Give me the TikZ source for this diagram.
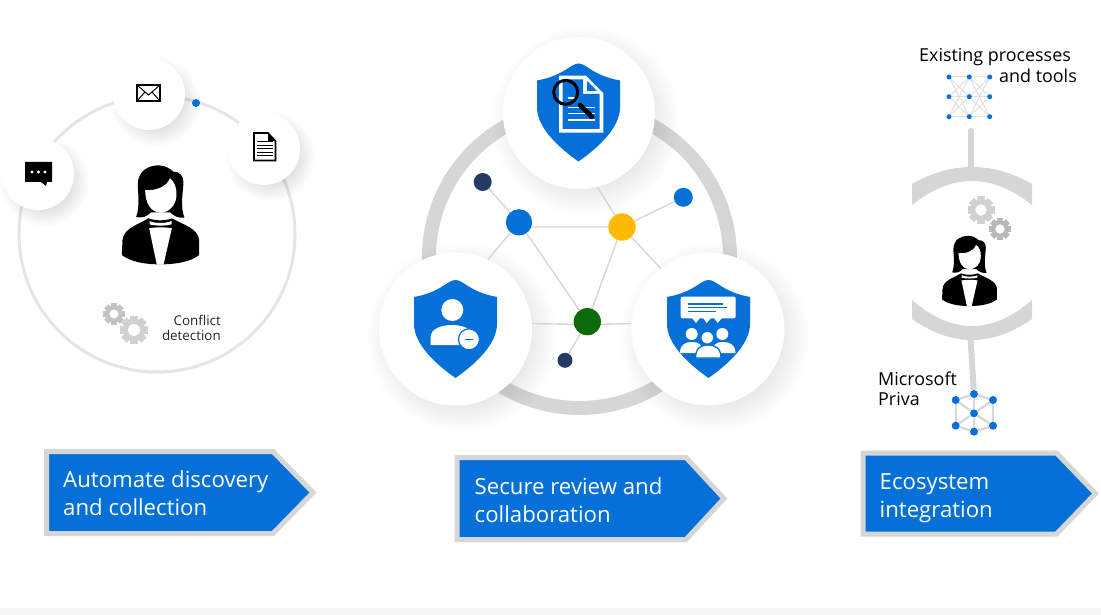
\documentclass[tikz,border=0pt]{standalone}
\usepackage{fontspec}
\setmainfont{Open Sans}
\usetikzlibrary{shadows, backgrounds, fadings}
\definecolor{msblue}{HTML}{0470D8}
\definecolor{ringgrey}{HTML}{D6D6D6}
\definecolor{navy}{HTML}{243A66}
\definecolor{amber}{HTML}{FFB900}
\definecolor{darkgreen}{HTML}{0B6A0B}
\tikzfading[name=softdisc, inner color=transparent!0, outer color=transparent!100]

\begin{document}
\begin{tikzpicture}[
  x=1pt, y=-1pt,
  bigdisc/.style={circle, fill=white, inner sep=0pt, minimum size=#1,
    general shadow={shadow scale=1.25, shadow xshift=5pt, shadow yshift=-6pt,
      fill=black, path fading=softdisc, opacity=.28}},
  dot/.style={circle, fill=#1, inner sep=0pt},
  netline/.style={draw=ringgrey, line width=1.4pt},
  banner/.style={draw=ringgrey, fill=msblue, line width=5pt, line join=miter},
  bannertext/.style={text=white, align=left, anchor=west, inner sep=0pt,
    font=\fontsize{22.2}{28}\selectfont},
  label/.style={text=black, inner sep=0pt, font=\fontsize{17.9}{21}\selectfont},
  person/.pic={
    \fill[black] (-73,6) .. controls (-61,-27) and (-68,-67) .. (-68,-92)
      .. controls (-68,-132) and (-36,-149) .. (-6,-149)
      .. controls (14,-149) and (29,-139) .. (39,-130)
      .. controls (54,-132) and (71,-117) .. (69,-97)
      .. controls (67,-67) and (59,-22) .. (72,8)
      .. controls (54,10) and (39,3) .. (29,-8) -- (-29,-8)
      .. controls (-40,5) and (-55,10) .. (-73,6) -- cycle;
    \fill[white] (-46,-75) .. controls (-15,-72) and (20,-85) .. (28,-110)
      .. controls (42,-100) and (48,-85) .. (48,-60)
      .. controls (48,-30) and (25,-7) .. (1,-7)
      .. controls (-28,-7) and (-46,-35) .. (-46,-75) -- cycle;
    \fill[black] (-116,120) -- (-114,75) .. controls (-110,40) and (-70,30) .. (-36,10)
      .. controls (-15,18) and (15,18) .. (34,10)
      .. controls (70,30) and (112,40) .. (116,75) -- (116,120)
      .. controls (90,140) and (50,147) .. (9,148) -- (-11,148)
      .. controls (-50,147) and (-90,140) .. (-116,120) -- cycle;
    \fill[white] (-33,18) .. controls (-15,26) and (15,26) .. (33,18) -- (33,28)
      .. controls (15,33) and (-15,33) .. (-33,28) -- cycle;
    \fill[white] (-34,40) .. controls (-15,36) and (15,36) .. (34,40) -- (9,149) -- (-11,149) -- cycle;
  },
  shield/.pic={
    \fill[msblue] (0,-49) .. controls (-8,-49) and (-14,-37) .. (-41.5,-32) -- (-41.5,-5)
      .. controls (-41.5,15) and (-20,35) .. (0,49)
      .. controls (20,35) and (41.5,15) .. (41.5,-5) -- (41.5,-32)
      .. controls (14,-37) and (8,-49) .. (0,-49) -- cycle;
  },
  gear/.pic={
    \path[pic actions] (0,0) circle (7.8);
    \foreach \a in {0,45,...,315}
      \path[pic actions, rotate=\a] (-2.7,-10) rectangle (2.7,0);
    \fill[white] (0,0) circle (4.2);
  }
]
\useasboundingbox (0,0) rectangle (1101,615);
\fill[black!3] (0,608) rectangle (1101,615);

\node[circle, draw=black!10, line width=3pt, inner sep=0pt, minimum size=276pt] (ringa) at (157,234) {};
\node[bigdisc=72pt] (chat) at (38,174) {};
\node[bigdisc=72pt] (mail) at (149,94) {};
\node[bigdisc=72pt] (page) at (264,149) {};
\node[dot=msblue, minimum size=8pt] (ringdot) at (196,103) {};

\fill[black] (25,162) rectangle (52,182) (41,182) -- (47,182) -- (46,186) -- cycle;
\foreach \x in {32,38.5,45} \fill[white] (\x,172) circle (1.7);
\draw[black, line width=1.8pt, fill=white] (137,85) rectangle (160,101);
\draw[black, line width=1pt] (137,85) -- (148.5,95) -- (160,85) (137,101) -- (145,92) (160,101) -- (152,92);
\draw[black, line width=1.6pt, line join=miter] (254,133) -- (268,133) -- (275.5,141) -- (275.5,160.5) -- (254,160.5) -- cycle;
\fill[black] (268,133) -- (268,141) -- (275.5,141) -- cycle;
\foreach \y in {142,145.5,149,152.5,156} \draw[black, line width=1pt] (257,\y) -- (272.5,\y);
\pic[scale=.3333] at (160.5,215) {person};
\pic[scale=1.08, fill=black!24] at (114,314) {gear};
\pic[scale=1.42, fill=black!18] at (134,330) {gear};
\node[label, text=black!85, align=right, anchor=east, font=\fontsize{13.4}{15}\selectfont] (conflict) at (221,327.5) {Conflict\\detection};

\node[circle, draw=ringgrey, line width=14pt, inner sep=0pt, minimum size=301pt] (ringb) at (579.5,257.5) {};
\node[bigdisc=152pt] (review) at (579,113) {};
\node[bigdisc=153pt] (remove) at (455.5,329) {};
\node[bigdisc=153pt] (team) at (708,329) {};
\node[dot=navy, minimum size=18pt] (n1) at (482.7,182) {};
\node[dot=msblue, minimum size=26pt] (n2) at (519,222.3) {};
\node[dot=amber, minimum size=27pt] (n3) at (622,227) {};
\node[dot=msblue, minimum size=19pt] (n4) at (683.3,197.3) {};
\node[dot=darkgreen, minimum size=27pt] (n5) at (587.3,321.7) {};
\node[dot=navy, minimum size=15pt] (n6) at (565,360.3) {};
\begin{scope}[on background layer]
  \draw[netline] (n1) -- (n2);
  \draw[netline] (n2.-21) -- (n3.180);
  \draw[netline] (n2) -- (n5);
  \draw[netline] (n3) -- (n5);
  \draw[netline] (n3) -- (n4);
  \draw[netline] (n5) -- (n6);
\end{scope}
\draw[netline] (n2) -- (remove.65);
\draw[netline] (n3) -- (review.-76);
\draw[netline] (n3) -- (team.128);
\draw[netline] (n5.191) -- (remove.4);
\draw[netline] (n5.-11) -- (team.176);
\node[dot=msblue, minimum size=26pt] at (n2) {};
\node[dot=amber, minimum size=27pt] at (n3) {};
\node[dot=darkgreen, minimum size=27pt] at (n5) {};

\pic at (578.5,112.5) {shield};
\fill[white] (559,75.7) -- (586,75.7) -- (603.3,93.3) -- (603.3,132.7) -- (559,132.7) -- cycle;
\fill[msblue] (562.5,79.5) -- (583,79.5) -- (583,94) -- (599.5,94) -- (599.5,129) -- (562.5,129) -- cycle;
\fill[msblue] (587,81) -- (587,91) -- (597,91) -- cycle;
\foreach \y/\w in {98/577, 107.5/595, 113.5/595, 120/595} \draw[white, line width=1.8pt] (568,\y) -- (\w,\y);
\draw[black, line width=3pt] (565.7,92.3) circle (12);
\draw[black, line width=4.7pt, line cap=round] (580,105) -- (591.7,116.7);

\pic at (455.5,329) {shield};
\fill[white] (452.3,310) circle (11);
\fill[white] (430.7,345) -- (430.7,337) .. controls (430.7,329) and (441,325) .. (452,325) .. controls (463,325) and (473,329) .. (473,337) -- (473,345) -- cycle;
\draw[msblue, line width=1.2pt, fill=white] (469,339.3) circle (10.5);
\draw[msblue, line width=1.5pt] (465,339.3) -- (473.3,339.3);

\pic at (708.5,329) {shield};
\fill[white, rounded corners=2pt] (680.7,296.7) rectangle (735.7,318.3);
\fill[white] (692,318) -- (700,318) -- (696,323) -- cycle (703,318) -- (711,318) -- (706.7,323) -- cycle (714,318) -- (722,318) -- (717.7,323) -- cycle;
\foreach \y/\w in {304/723, 307.7/727, 311.7/715.7} \draw[msblue, line width=1.1pt] (687.7,\y) -- (\w,\y);
\foreach \x in {691.7,722.3} \fill[white] (\x,334) circle (6);
\fill[white] (680,353) .. controls (680,344) and (686,342) .. (692,342) .. controls (698,342) and (703,344) .. (703,353) -- cycle;
\fill[white] (712,353) .. controls (712,344) and (717,342) .. (723,342) .. controls (729,342) and (735.5,344) .. (735.5,353) -- cycle;
\draw[msblue, line width=1.3pt, fill=white] (707.3,337.7) circle (6.5);
\draw[msblue, line width=1.3pt, fill=white] (695.5,358) .. controls (695.5,348) and (701,345) .. (708,345) .. controls (715,345) and (721,348) .. (721,358) -- cycle;

\foreach \i/\x in {1/949, 2/969.3, 3/989.7}
  \foreach \j/\y in {1/77, 2/96.7, 3/116.7}
    \node[dot=msblue, minimum size=5pt] (e\i\j) at (\x,\y) {};
\begin{scope}[on background layer]
  \foreach \j in {1,2,3}
    \foreach \k in {1,2,3} {
      \draw[draw=black!12, line width=1pt] (e1\j) -- (e2\k);
      \draw[draw=black!12, line width=1pt] (e2\j) -- (e3\k);
    }
\end{scope}
\node[label, anchor=west] (existing) at (919,57.5) {Existing processes};
\node[label, anchor=east] (tools) at (1077,76) {and tools};
\node[label, anchor=west] (microsoft) at (878,379) {Microsoft};
\node[label, anchor=west] (priva) at (878,399) {Priva};

\coordinate (bartop) at (971,131);
\coordinate (archigh) at (971,170);
\coordinate (arclow) at (970.5,338);
\fill[ringgrey] (912,184) .. controls (952,161.3) and (992,161.3) .. (1032,184) -- (1032,205)
  .. controls (992,173) and (952,173) .. (912,205) -- cycle;
\fill[ringgrey] (912,319) .. controls (952,347) and (992,347) .. (1032,319) -- (1032,300)
  .. controls (992,334.7) and (952,334.7) .. (912,300) -- cycle;
\draw[ringgrey, line width=6pt, line cap=round] (bartop) -- (archigh);
\pic[scale=1.35, fill=black!18] at (981,210) {gear};
\pic[scale=1.1, fill=black!28] at (1000,229) {gear};
\pic[scale=.2367] at (969.5,271) {person};

\node[dot=msblue, minimum size=8pt] (p1) at (974,394) {};
\node[dot=msblue, minimum size=8pt] (p2) at (955.7,400) {};
\node[dot=msblue, minimum size=8pt] (p3) at (993,400) {};
\node[dot=msblue, minimum size=8pt] (p4) at (974,413.3) {};
\node[dot=msblue, minimum size=8pt] (p5) at (955.7,425.7) {};
\node[dot=msblue, minimum size=8pt] (p6) at (993,425.7) {};
\node[dot=msblue, minimum size=8pt] (p7) at (974,431.7) {};
\begin{scope}[on background layer]
  \draw[ringgrey, line width=6pt] (arclow) -- (p1);
  \foreach \a/\b in {p1/p2, p1/p3, p2/p5, p3/p6, p5/p7, p6/p7, p4/p1, p4/p2, p4/p3, p4/p5, p4/p6, p4/p7}
    \draw[ringgrey, line width=2.2pt] (\a) -- (\b);
\end{scope}

\draw[banner] (46.5,451.5) -- (273,451.5) -- (313,492.5) -- (273,533.5) -- (46.5,533.5) -- cycle;
\draw[banner] (457,457.5) -- (686,457.5) -- (724,498.5) -- (686,539.5) -- (457,539.5) -- cycle;
\draw[banner] (863,453) -- (1056.5,453) -- (1095.5,493.5) -- (1056.5,534) -- (863,534) -- cycle;
\node[bannertext] (automate) at (63,493) {Automate discovery\\and collection};
\node[bannertext] (secure) at (474.5,500) {Secure review and\\collaboration};
\node[bannertext] (ecosystem) at (879.5,498.5) {Ecosystem\\integration};
\end{tikzpicture}
\end{document}
